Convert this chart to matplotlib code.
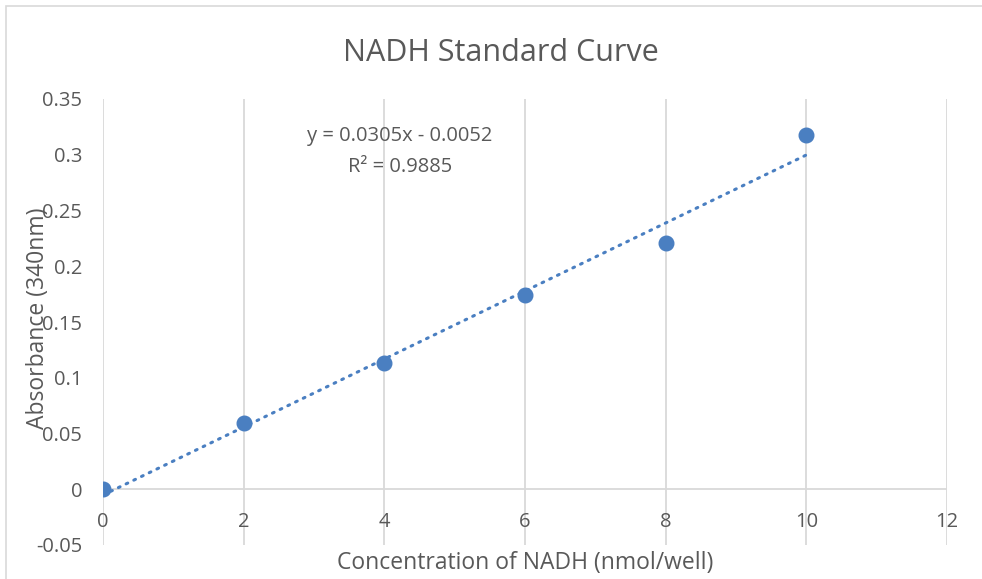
import numpy as np
import matplotlib.pyplot as plt
from matplotlib.patches import Rectangle

# NADH standard data
conc = [0, 2, 4, 6, 8, 10]
absorb = [0.0, 0.059, 0.113, 0.174, 0.221, 0.318]
x_ticks = [0, 2, 4, 6, 8, 10, 12]
y_ticks = [-0.05, 0, 0.05, 0.1, 0.15, 0.2, 0.25, 0.3, 0.35]
y_tick_labels = ['-0.05', '0', '0.05', '0.1', '0.15', '0.2', '0.25', '0.3', '0.35']
slope, intercept = 0.0305, -0.0052
r2 = 0.9885

plt.rcParams['font.family'] = ['Open Sans', 'DejaVu Sans']
grey = '#595959'
grid_c = '#d9d9d9'
blue = '#4a7fc1'

fig = plt.figure(figsize=(9.82, 5.79), dpi=100)
fig.patches.append(Rectangle((6 / 982, -0.01), 1.0, 1 - 6 / 579 + 0.01,
                             transform=fig.transFigure, fill=False,
                             edgecolor='#d9d9d9', linewidth=1.2))
ax = fig.add_axes([103 / 982, 1 - 545 / 579, (947 - 103) / 982, (545 - 99) / 579])

ax.set_xlim(0, 12)
ax.set_ylim(-0.05, 0.35)
for s in ax.spines.values():
    s.set_visible(False)
for xt in x_ticks:
    ax.axvline(xt, color=grid_c, linewidth=1.3, zorder=0)
ax.axhline(0, color=grid_c, linewidth=1.3, zorder=0)

# trendline
xf = np.array([0, 10])
ax.plot(xf, slope * xf + intercept, color=blue, linestyle=(0, (0.6, 2.2)),
        linewidth=2.2, dash_capstyle='round', zorder=2)
ax.plot(conc, absorb, 'o', color=blue, markersize=10.5, zorder=3)

ax.set_xticks(x_ticks)
ax.set_xticklabels([str(v) for v in x_ticks])
ax.set_yticks(y_ticks)
ax.set_yticklabels(y_tick_labels)
ax.tick_params(length=0, labelsize=14.5, colors=grey)
ax.tick_params(axis='y', pad=15)
ax.tick_params(axis='x', pad=-24)

ax.text(4.22, 0.317, 'y = 0.0305x - 0.0052', ha='center', va='center', fontsize=14.5, color=grey)
ax.text(4.22, 0.289, 'R² = %.4f' % r2, ha='center', va='center', fontsize=14.5, color=grey)

fig.text(501 / 982, 1 - 53 / 579, 'NADH Standard Curve', ha='center', va='center',
         fontsize=22, color=grey)
fig.text(525 / 982, 1 - 563 / 579, 'Concentration of NADH (nmol/well)', ha='center',
         va='center', fontsize=16.5, color=grey)
fig.text(38 / 982, 1 - 318 / 579, 'Absorbance (340nm)', ha='center', va='center',
         rotation=90, fontsize=16.5, color=grey)

fig.savefig('out.png', dpi=100)
